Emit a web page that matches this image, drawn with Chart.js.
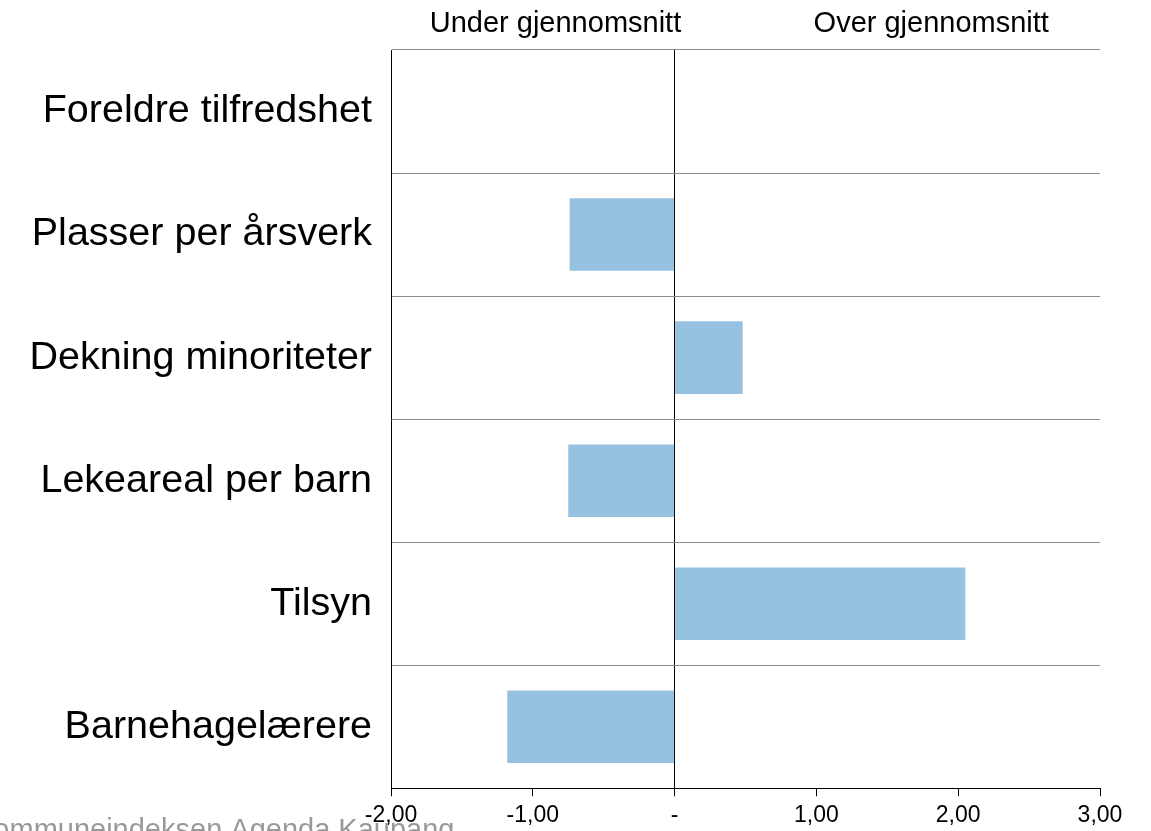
<!DOCTYPE html>
<html>
<head>
<meta charset="utf-8">
<script src="https://cdn.jsdelivr.net/npm/chart.js@4.4.1/dist/chart.umd.min.js"></script>
<style>
  html, body { margin: 0; padding: 0; background: #ffffff; }
  #wrap { width: 1151px; height: 831px; position: relative; }
</style>
</head>
<body>
<div id="wrap"><canvas id="c" width="1151" height="831"></canvas></div>
<script>
const categories = ['Foreldre tilfredshet', 'Plasser per årsverk', 'Dekning minoriteter', 'Lekeareal per barn', 'Tilsyn', 'Barnehagelærere'];
const values = [0, -0.74, 0.48, -0.75, 2.05, -1.18];
const xTickValues = [-2, -1, 0, 1, 2, 3];
const xTickLabels = ['-2,00', '-1,00', '-', '1,00', '2,00', '3,00'];
const headerLabels = ['Under gjennomsnitt', 'Over gjennomsnitt'];
const sourceText = 'Kommuneindeksen Agenda Kaupang';

const FONT = '"Liberation Sans", Arial, Helvetica, sans-serif';

const overlay = {
  id: 'overlay',
  afterDraw(chart) {
    const ctx = chart.ctx;
    const xs = chart.scales.x;
    ctx.save();
    ctx.fillStyle = '#000000';
    ctx.font = '29px ' + FONT;
    ctx.textAlign = 'center';
    ctx.textBaseline = 'alphabetic';
    ctx.fillText(headerLabels[0], xs.getPixelForValue(-0.84), 32);
    ctx.fillText(headerLabels[1], xs.getPixelForValue(1.81), 32);
    ctx.restore();
  },
  beforeDatasetsDraw(chart) {
    const ctx = chart.ctx;
    ctx.save();
    ctx.fillStyle = '#999999';
    ctx.font = '29px ' + FONT;
    ctx.textAlign = 'left';
    ctx.textBaseline = 'alphabetic';
    ctx.fillText(sourceText, -26, 839);
    ctx.restore();
  }
};

new Chart(document.getElementById('c'), {
  type: 'bar',
  data: {
    labels: categories,
    datasets: [{
      data: values,
      backgroundColor: '#97c1e1',
      borderWidth: 0,
      barPercentage: 0.59,
      categoryPercentage: 1.0
    }]
  },
  options: {
    indexAxis: 'y',
    responsive: false,
    animation: false,
    devicePixelRatio: 1,
    layout: { padding: { top: 50, right: 51, left: 0, bottom: 0 } },
    plugins: {
      legend: { display: false },
      tooltip: { enabled: false }
    },
    scales: {
      x: {
        type: 'linear',
        min: -2,
        max: 3,
        z: 1,
        afterBuildTicks(scale) { scale.ticks = xTickValues.map(v => ({ value: v })); },
        afterFit(scale) { scale.height = 41; },
        grid: {
          color: (c) => (c.tick && c.tick.value === 0) ? '#000000' : 'rgba(0,0,0,0)',
          lineWidth: 1,
          drawTicks: true,
          tickLength: 8,
          tickColor: '#000000',
          tickWidth: 1
        },
        border: { display: true, color: '#000000', width: 1 },
        ticks: {
          padding: 6,
          maxRotation: 0,
          autoSkip: false,
          color: '#000000',
          font: { family: FONT, size: 23 },
          callback: (v) => {
            const i = xTickValues.indexOf(v);
            return i >= 0 ? xTickLabels[i] : '';
          }
        }
      },
      y: {
        type: 'category',
        afterFit(scale) { scale.width = 391; },
        grid: {
          offset: true,
          color: '#8a8a8a',
          lineWidth: 1,
          drawTicks: false
        },
        border: { display: true, color: '#000000', width: 1 },
        ticks: {
          padding: 19,
          color: '#000000',
          font: { family: FONT, size: 39.5 }
        }
      }
    }
  },
  plugins: [overlay]
});
</script>
</body>
</html>
